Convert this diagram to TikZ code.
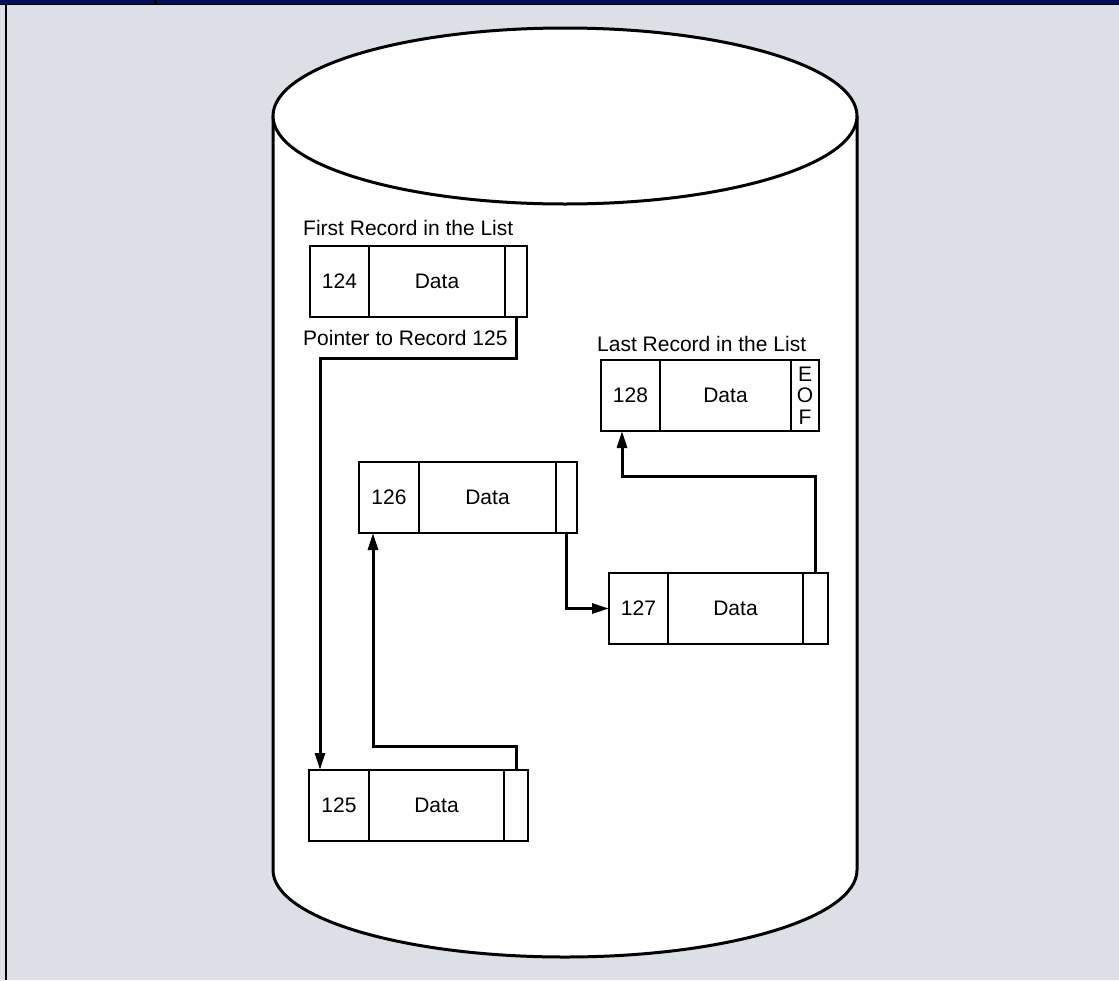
\documentclass[tikz,border=0pt]{standalone}
\usepackage{fontspec}
\setmainfont{Liberation Sans}
\usetikzlibrary{arrows.meta}
\definecolor{bgcol}{RGB}{220,223,230}
\definecolor{navycol}{RGB}{6,16,86}
\tikzset{
  cell/.style={draw, line width=1.6pt, fill=white, minimum height=71pt, inner sep=0pt,
    outer sep=0pt, anchor=north west, align=center},
  conn/.style={line width=3pt, line join=miter},
  arr/.style={conn, -{Triangle[length=17pt,width=10pt]}},
  lbl/.style={anchor=base west, inner sep=0pt},
  cyl/.style={line width=3pt},
}
\newcommand{\recbox}[6]{%
  \node[cell, minimum width=#5] (i#1) at (#2,#3) {#4};
  \node[cell, minimum width=#6] (d#1) at (i#1.north east) {Data};
}
\begin{document}
\begin{tikzpicture}[x=1pt, y=-1pt, font=\fontsize{21}{25}\selectfont]
\useasboundingbox (0,0) rectangle (1119,980);
\fill[bgcol] (0,0) rectangle (1119,980);
% top bar and frame
\fill[navycol] (0,0) rectangle (1119,3.8);
\fill[black] (0,3.5) rectangle (1119,5.2);
\fill[black] (154,0) rectangle (157,5);
\fill[black] (5,4) rectangle (7.2,980);
% cylinder
\fill[white] (273,116) -- (273,870) .. controls (273,918) and (404,957) .. (565,957)
  .. controls (726,957) and (857,918) .. (857,870) -- (857,116) -- cycle;
\draw[cyl] (273,116) -- (273,870) .. controls (273,918) and (404,957) .. (565,957)
  .. controls (726,957) and (857,918) .. (857,870) -- (857,116);
\filldraw[cyl, fill=white] (565,116) ellipse [x radius=292pt, y radius=88pt];
% records
\recbox{124}{310}{246}{124}{59pt}{136pt}
\node[cell, minimum width=22pt] (p124) at (d124.north east) {};
\recbox{125}{309}{770}{125}{60pt}{135pt}
\node[cell, minimum width=24pt] (p125) at (d125.north east) {};
\recbox{126}{359}{462}{126}{60pt}{137pt}
\node[cell, minimum width=21pt] (p126) at (d126.north east) {};
\recbox{127}{609}{573}{127}{59pt}{135pt}
\node[cell, minimum width=25pt] (p127) at (d127.north east) {};
\recbox{128}{601}{360}{128}{59pt}{131pt}
\node[cell, minimum width=28pt, font=\fontsize{21}{21.5}\selectfont] (p128) at (d128.north east) {E\\O\\F};
% labels
\node[lbl] (lfirst) at (303,235) {First Record in the List};
\node[lbl] (lptr) at (303,345) {Pointer to Record 125};
\node[lbl] (llast) at (597,351) {Last Record in the List};
% connectors
\draw[arr] (p124.south) -- ++(0,41) -| ([xshift=11pt]i125.north west);
\draw[arr] (p125.north) -- ++(0,-24) -| ([xshift=14pt]i126.south west);
\draw[arr] (p126.south) |- (i127.west);
\draw[arr] (p127.north) -- ++(0,-97) -| ([xshift=21pt]i128.south west);
\end{tikzpicture}
\end{document}
